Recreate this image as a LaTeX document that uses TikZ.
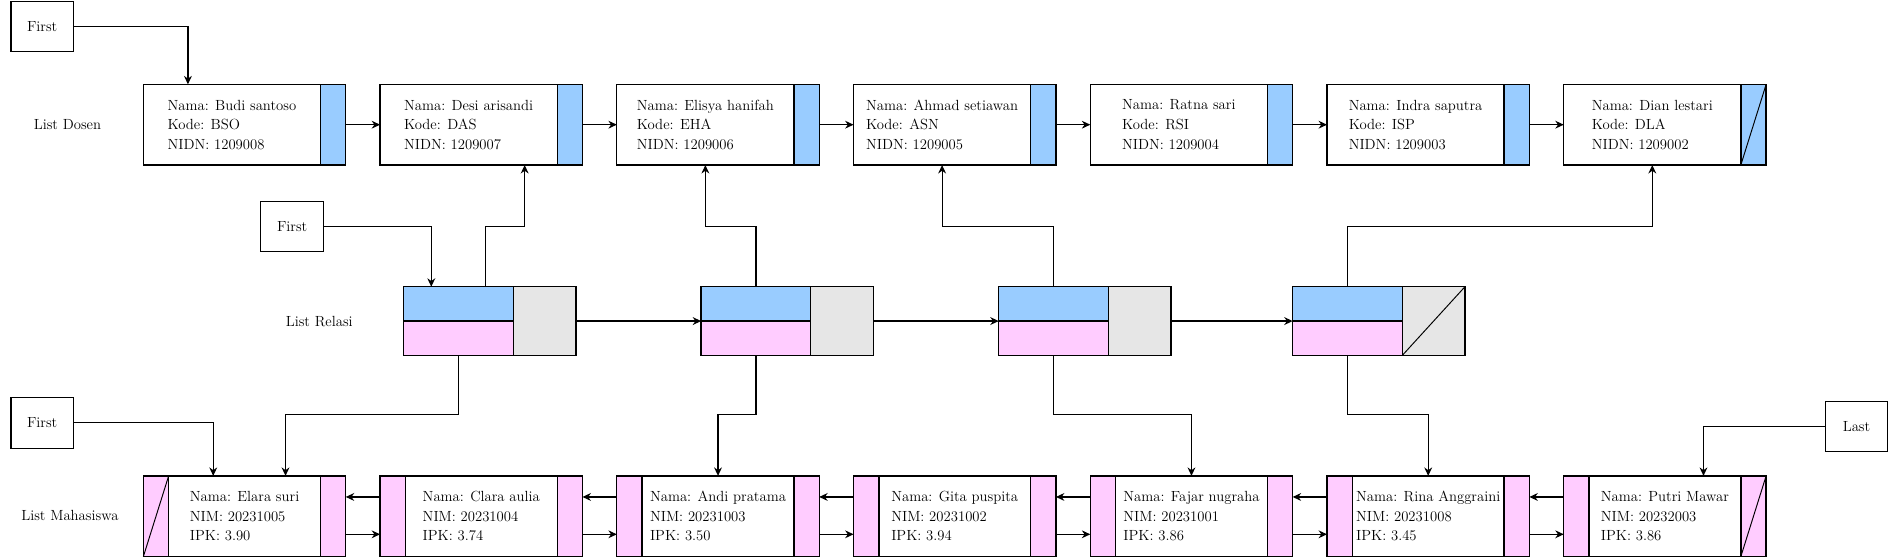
\documentclass[tikz,border=0pt]{standalone}
\usepackage{tikz}
\usetikzlibrary{arrows.meta, positioning}

\definecolor{cellBlue}{HTML}{99CCFF}
\definecolor{cellPink}{HTML}{FFCCFF}
\definecolor{cellGrey}{HTML}{E6E6E6}

\newcommand{\boxFont}{\fontsize{12.2}{16.3}\selectfont}

\tikzset{
    dataBox/.style={draw, line width=1.1pt, inner sep=0pt, outer sep=0pt, minimum height=67pt, align=left, font=\boxFont},
    dosenBox/.style={dataBox, minimum width=147pt, anchor=north west},
    mhsBox/.style={dataBox, minimum width=126pt},
    dPtr/.style={dataBox, fill=cellBlue, minimum width=21pt},
    mPtr/.style={dataBox, fill=cellPink, minimum width=21pt},
    relHalf/.style={draw, line width=1.1pt, inner sep=0pt, outer sep=0pt, minimum width=91pt, minimum height=28.5pt},
    relNext/.style={draw, line width=1.1pt, inner sep=0pt, outer sep=0pt, fill=cellGrey, minimum width=52pt, minimum height=57pt, anchor=north west},
    headBox/.style={draw, line width=1.1pt, minimum width=52pt, minimum height=42pt, font=\boxFont},
    listLabel/.style={font=\boxFont},
    link/.style={line width=1pt, -{Stealth[length=7pt, width=6.5pt]}},
    nullLine/.style={line width=0.8pt}
}

\begin{document}
\begin{tikzpicture}[x=1pt, y=-1pt]
        \useasboundingbox (0,0) rectangle (1568,464);

        % Labels
        \node[listLabel] (lblDosen) at (56,103) {List Dosen};
        \node[listLabel] (lblRelasi) at (265,267) {List Relasi};
        \node[listLabel] (lblMhs) at (58,428) {List Mahasiswa};

        % First / Last
        \node[headBox] (fD) at (35,22) {First};
        \node[headBox] (fR) at (242.5,188) {First};
        \node[headBox] (fM) at (35,351) {First};
        \node[headBox] (lM) at (1541,354) {Last};

        % List Dosen
        \node[dosenBox] (d1) at (119,70) {Nama: Budi santoso\\Kode: BSO\\NIDN: 1209008};
        \node[dPtr, right=0pt of d1] (d1p) {};
        \node[dosenBox, right=28.5pt of d1p] (d2) {Nama: Desi arisandi\\Kode: DAS\\NIDN: 1209007};
        \node[dPtr, right=0pt of d2] (d2p) {};
        \node[dosenBox, right=28.5pt of d2p] (d3) {Nama: Elisya hanifah\\Kode: EHA\\NIDN: 1209006};
        \node[dPtr, right=0pt of d3] (d3p) {};
        \node[dosenBox, right=28.5pt of d3p] (d4) {Nama: Ahmad setiawan\\Kode: ASN\\NIDN: 1209005};
        \node[dPtr, right=0pt of d4] (d4p) {};
        \node[dosenBox, right=28.5pt of d4p] (d5) {Nama: Ratna sari\\Kode: RSI\\NIDN: 1209004};
        \node[dPtr, right=0pt of d5] (d5p) {};
        \node[dosenBox, right=28.5pt of d5p] (d6) {Nama: Indra saputra\\Kode: ISP\\NIDN: 1209003};
        \node[dPtr, right=0pt of d6] (d6p) {};
        \node[dosenBox, right=28.5pt of d6p] (d7) {Nama: Dian lestari\\Kode: DLA\\NIDN: 1209002};
        \node[dPtr, right=0pt of d7] (d7p) {};
        \draw[nullLine] (d7p.south west) -- (d7p.north east);

        % List Relasi
        \node[relHalf, fill=cellBlue, anchor=north west] (r1d) at (335,238) {};
        \node[relHalf, fill=cellPink, below=0pt of r1d] (r1m) {};
        \node[relNext] (r1n) at (r1d.north east) {};
        \node[relHalf, fill=cellBlue, anchor=north west] (r2d) at (582,238) {};
        \node[relHalf, fill=cellPink, below=0pt of r2d] (r2m) {};
        \node[relNext] (r2n) at (r2d.north east) {};
        \node[relHalf, fill=cellBlue, anchor=north west] (r3d) at (829,238) {};
        \node[relHalf, fill=cellPink, below=0pt of r3d] (r3m) {};
        \node[relNext] (r3n) at (r3d.north east) {};
        \node[relHalf, fill=cellBlue, anchor=north west] (r4d) at (1073,238) {};
        \node[relHalf, fill=cellPink, below=0pt of r4d] (r4m) {};
        \node[relNext] (r4n) at (r4d.north east) {};
        \draw[nullLine] (r4n.south west) -- (r4n.north east);

        % List Mahasiswa
        \node[mPtr, anchor=north west] (m1l) at (119,395) {};
        \node[mhsBox, right=0pt of m1l] (m1) {Nama: Elara suri\\NIM: 20231005\\IPK: 3.90};
        \node[mPtr, right=0pt of m1] (m1r) {};
        \node[mPtr, right=28.5pt of m1r] (m2l) {};
        \node[mhsBox, right=0pt of m2l] (m2) {Nama: Clara aulia\\NIM: 20231004\\IPK: 3.74};
        \node[mPtr, right=0pt of m2] (m2r) {};
        \node[mPtr, right=28.5pt of m2r] (m3l) {};
        \node[mhsBox, right=0pt of m3l] (m3) {Nama: Andi pratama\\NIM: 20231003\\IPK: 3.50};
        \node[mPtr, right=0pt of m3] (m3r) {};
        \node[mPtr, right=28.5pt of m3r] (m4l) {};
        \node[mhsBox, right=0pt of m4l] (m4) {Nama: Gita puspita\\NIM: 20231002\\IPK: 3.94};
        \node[mPtr, right=0pt of m4] (m4r) {};
        \node[mPtr, right=28.5pt of m4r] (m5l) {};
        \node[mhsBox, right=0pt of m5l] (m5) {Nama: Fajar nugraha\\NIM: 20231001\\IPK: 3.86};
        \node[mPtr, right=0pt of m5] (m5r) {};
        \node[mPtr, right=28.5pt of m5r] (m6l) {};
        \node[mhsBox, right=0pt of m6l] (m6) {Nama: Rina Anggraini\\NIM: 20231008\\IPK: 3.45};
        \node[mPtr, right=0pt of m6] (m6r) {};
        \node[mPtr, right=28.5pt of m6r] (m7l) {};
        \node[mhsBox, right=0pt of m7l] (m7) {Nama: Putri Mawar\\NIM: 20232003\\IPK: 3.86};
        \node[mPtr, right=0pt of m7] (m7r) {};
        \draw[nullLine] (m1l.south west) -- (m1l.north east);
        \draw[nullLine] (m7r.south west) -- (m7r.north east);

        % First / Last pointers
        \draw[link] (fD.east) -| ([xshift=-36.5pt]d1.north);
        \draw[link] (fR.east) -| ([xshift=-22.5pt]r1d.north);
        \draw[link] (fM.east) -| ([xshift=-26pt]m1.north);
        \draw[link] (lM.west) -| ([xshift=32pt]m7.north);

        % Dosen next
        \draw[link] (d1p.east) -- (d2.west);
        \draw[link] (d2p.east) -- (d3.west);
        \draw[link] (d3p.east) -- (d4.west);
        \draw[link] (d4p.east) -- (d5.west);
        \draw[link] (d5p.east) -- (d6.west);
        \draw[link] (d6p.east) -- (d7.west);

        % Relasi next
        \draw[link] (r1n.east) -- (r2d.south west);
        \draw[link] (r2n.east) -- (r3d.south west);
        \draw[link] (r3n.east) -- (r4d.south west);

        % Relasi -> Dosen
        \draw[link] ([xshift=22.5pt]r1d.north) -- ++(0,-50) -| ([xshift=46.5pt]d2.south);
        \draw[link] (r2d.north) -- ++(0,-50) -| (d3.south);
        \draw[link] (r3d.north) -- ++(0,-50) -| (d4.south);
        \draw[link] (r4d.north) -- ++(0,-50) -| (d7.south);

        % Relasi -> Mahasiswa
        \draw[link] (r1m.south) -- ++(0,49) -| ([xshift=34pt]m1.north);
        \draw[link] (r2m.south) -- ++(0,49) -| (m3.north);
        \draw[link] (r3m.south) -- ++(0,49) -| (m5.north);
        \draw[link] (r4m.south) -- ++(0,49) -| (m6.north);

        % Mahasiswa prev / next
        \draw[link] ([yshift=16pt]m2l.west) -- ([yshift=16pt]m1r.east);
        \draw[link] ([yshift=-15pt]m1r.east) -- ([yshift=-15pt]m2l.west);
        \draw[link] ([yshift=16pt]m3l.west) -- ([yshift=16pt]m2r.east);
        \draw[link] ([yshift=-15pt]m2r.east) -- ([yshift=-15pt]m3l.west);
        \draw[link] ([yshift=16pt]m4l.west) -- ([yshift=16pt]m3r.east);
        \draw[link] ([yshift=-15pt]m3r.east) -- ([yshift=-15pt]m4l.west);
        \draw[link] ([yshift=16pt]m5l.west) -- ([yshift=16pt]m4r.east);
        \draw[link] ([yshift=-15pt]m4r.east) -- ([yshift=-15pt]m5l.west);
        \draw[link] ([yshift=16pt]m6l.west) -- ([yshift=16pt]m5r.east);
        \draw[link] ([yshift=-15pt]m5r.east) -- ([yshift=-15pt]m6l.west);
        \draw[link] ([yshift=16pt]m7l.west) -- ([yshift=16pt]m6r.east);
        \draw[link] ([yshift=-15pt]m6r.east) -- ([yshift=-15pt]m7l.west);
\end{tikzpicture}
\end{document}
